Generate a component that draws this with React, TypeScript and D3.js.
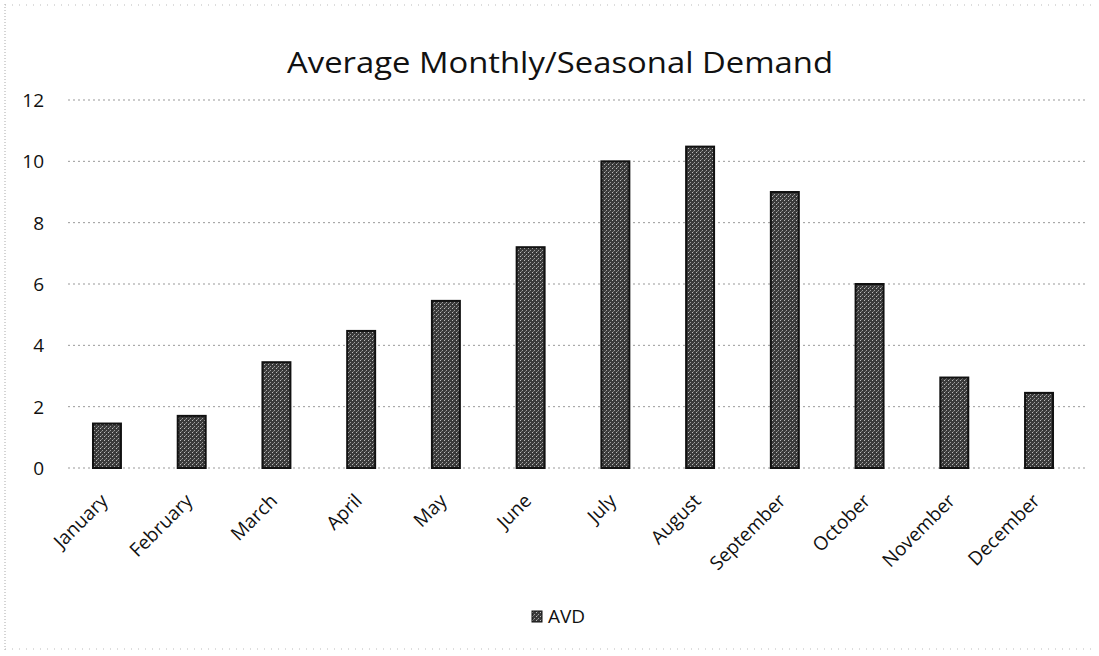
import React from "react";
import * as d3 from "d3";

const months = ["January","February","March","April","May","June","July","August","September","October","November","December"];
const avd = [1.45, 1.7, 3.45, 4.47, 5.45, 7.2, 10, 10.48, 9, 6, 2.95, 2.45];
const yTicks = [0, 2, 4, 6, 8, 10, 12];
const seriesName = "AVD";
const title = "Average Monthly/Seasonal Demand";

export default function App() {
  const W = 1099, H = 656;
  const left = 64.6, right = 1081.4, top = 100, bottom = 468;
  const x = d3.scaleBand<string>().domain(months).range([left, right]).paddingInner(0.67).paddingOuter(0.335);
  const y = d3.scaleLinear().domain([0, 12]).range([bottom, top]);
  const font = "'Open Sans', 'Liberation Sans', sans-serif";
  return (
    <svg width={W} height={H} style={{ position: "absolute", left: 0, top: 0, background: "#fff" }}>
      <defs>
        <pattern id="tex" width="4" height="4" patternUnits="userSpaceOnUse">
          <rect width="4" height="4" fill="#3a3a3a" />
          <rect x="0" y="0" width="1" height="1" fill="#bdbdbd" />
          <rect x="2" y="2" width="1" height="1" fill="#a0a0a0" />
          <rect x="1" y="3" width="1" height="1" fill="#777" />
        </pattern>
      </defs>
      <line x1={5} x2={5} y1={4} y2={650} stroke="#aaa" strokeWidth={1} strokeDasharray="1 2" />
      <line x1={5} x2={1094} y1={5} y2={5} stroke="#bbb" strokeWidth={1} strokeDasharray="1 6" />
      <line x1={5} x2={1094} y1={649} y2={649} stroke="#bbb" strokeWidth={1} strokeDasharray="1 6" />
      <text x={560} y={73} textAnchor="middle" fontFamily={font} fontSize={29} textLength={546} lengthAdjust="spacingAndGlyphs" fill="#111">{title}</text>
      {yTicks.map(t => (
        <g key={t}>
          <line x1={68} x2={1085} y1={y(t)} y2={y(t)} stroke="#999" strokeWidth={1} strokeDasharray="2 3" />
          <text x={44} y={y(t) + 7} textAnchor="end" fontFamily={font} fontSize={19} fill="#111">{t}</text>
        </g>
      ))}
      {months.map((m, i) => (
        <rect key={m} x={x(m)!} y={y(avd[i])} width={x.bandwidth()} height={y(0) - y(avd[i])}
          fill="url(#tex)" stroke="#111" strokeWidth={2} />
      ))}
      {months.map(m => {
        const cx = x(m)! + x.bandwidth() / 2;
        return (
          <text key={m} transform={`translate(${cx + 2},${502}) rotate(-45)`} textAnchor="end"
            fontFamily={font} fontSize={19} fill="#111">{m}</text>
        );
      })}
      <rect x={532} y={611} width={10} height={11} fill="url(#tex)" stroke="#111" strokeWidth={1} />
      <text x={548} y={623} fontFamily={font} fontSize={19} fill="#111">{seriesName}</text>
    </svg>
  );
}
